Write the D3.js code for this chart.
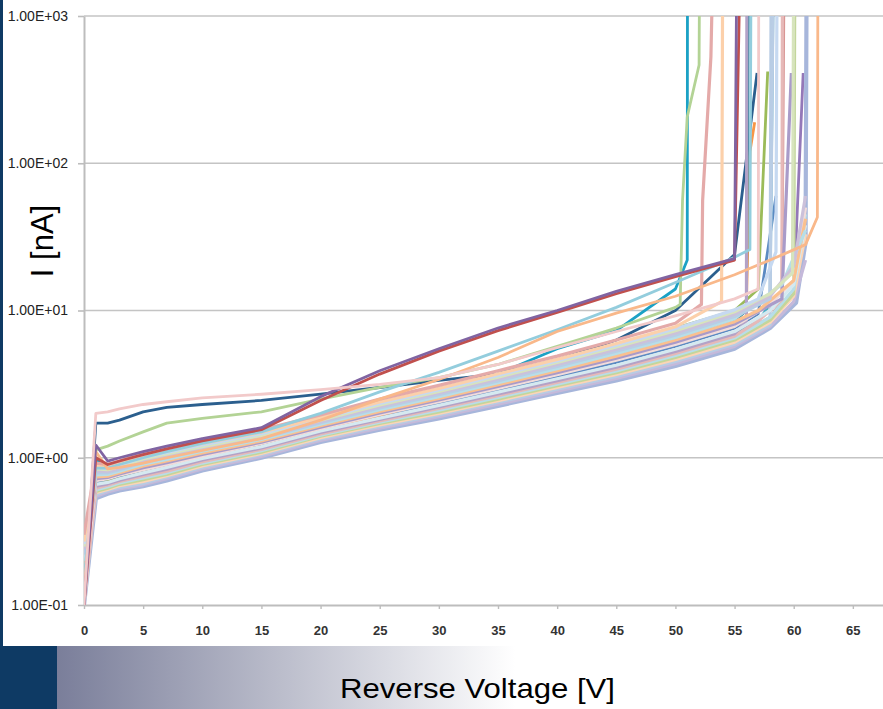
<!DOCTYPE html>
<html>
<head>
<meta charset="utf-8">
<script src="https://cdn.jsdelivr.net/npm/d3@7"></script>
<style>
  body { margin: 0; background: #fff; }
  svg { display: block; }
</style>
</head>
<body>
<svg id="chart" width="883" height="709"></svg>
<script>
// voltage grid shared by all the sweeps (V)
const volts = [0, 1, 2, 3, 5, 7, 10, 15, 20, 25, 30, 35, 40, 45, 50, 55];

// leakage current in nA at each grid voltage, one row per diode (null = already broken down)
const currents = [
  // drawn first, partly hidden by the bundle
  [0.10, 1.72, 1.72, 1.80, 2.05, 2.20, 2.30, 2.45, 2.70, 3.00, 3.35, 3.70, 4.60, 6.30, 10.0, 24],
  [0.10, 1.00, 0.78, 0.80, 0.86, 0.93, 1.05, 1.25, 1.60, 2.05, 2.65, 3.70, 5.50, 7.30, 14.0, null],
  [0.10, 0.68, 0.70, 0.74, 0.81, 0.88, 1.01, 1.22, 1.55, 1.92, 2.34, 2.88, 3.56, 4.45, 5.70, 7.6],
  [0.12, 0.63, 0.66, 0.70, 0.76, 0.82, 0.95, 1.15, 1.47, 1.80, 2.20, 2.68, 3.30, 4.05, 5.20, 6.9],
  [0.10, 0.72, 0.70, 0.73, 0.78, 0.85, 0.97, 1.20, 1.55, 2.00, 2.60, 3.40, 4.40, 5.80, 7.60, 10],
  [0.12, 0.75, 0.72, 0.75, 0.80, 0.88, 1.00, 1.20, 1.55, 1.95, 2.45, 3.10, 3.90, 5.00, 6.50, 9.0],
  [0.10, 0.60, 0.63, 0.67, 0.72, 0.78, 0.90, 1.10, 1.40, 1.72, 2.08, 2.55, 3.10, 3.80, 4.80, 6.4],
  [0.10, 0.70, 0.72, 0.75, 0.82, 0.90, 1.02, 1.24, 1.60, 2.00, 2.50, 3.10, 3.85, 4.90, 6.30, 8.5],
  [0.12, 0.62, 0.64, 0.68, 0.73, 0.80, 0.92, 1.12, 1.43, 1.76, 2.12, 2.60, 3.20, 3.95, 5.00, 6.6],
  // pastel bundle
  [0.10, 0.53, 0.57, 0.60, 0.64, 0.70, 0.82, 1.00, 1.28, 1.55, 1.85, 2.25, 2.75, 3.35, 4.20, 5.5],
  [0.12, 0.545, 0.585, 0.615, 0.655, 0.72, 0.84, 1.02, 1.31, 1.59, 1.90, 2.31, 2.83, 3.45, 4.35, 5.7],
  [0.14, 0.56, 0.60, 0.63, 0.67, 0.74, 0.86, 1.05, 1.34, 1.63, 1.95, 2.38, 2.92, 3.57, 4.50, 5.9],
  [0.20, 0.58, 0.61, 0.645, 0.69, 0.755, 0.88, 1.07, 1.37, 1.67, 2.00, 2.44, 3.00, 3.68, 4.65, 6.1],
  [0.15, 0.59, 0.62, 0.66, 0.71, 0.77, 0.90, 1.09, 1.40, 1.71, 2.05, 2.50, 3.08, 3.78, 4.80, 6.3],
  [0.10, 0.605, 0.635, 0.675, 0.73, 0.79, 0.92, 1.115, 1.425, 1.745, 2.10, 2.57, 3.16, 3.88, 4.95, 6.5],
  [0.10, 0.62, 0.65, 0.69, 0.75, 0.81, 0.94, 1.14, 1.45, 1.78, 2.16, 2.64, 3.25, 4.00, 5.10, 6.7],
  [0.22, 0.64, 0.665, 0.705, 0.77, 0.835, 0.965, 1.165, 1.485, 1.82, 2.21, 2.71, 3.34, 4.12, 5.27, 6.95],
  [0.20, 0.66, 0.68, 0.72, 0.79, 0.86, 0.99, 1.19, 1.52, 1.86, 2.27, 2.79, 3.44, 4.25, 5.45, 7.2],
  [0.13, 0.70, 0.72, 0.76, 0.83, 0.90, 1.03, 1.25, 1.58, 1.97, 2.40, 2.96, 3.67, 4.59, 5.87, 7.8],
  [0.16, 0.72, 0.735, 0.775, 0.855, 0.925, 1.055, 1.275, 1.615, 2.015, 2.465, 3.045, 3.785, 4.745, 6.08, 8.1],
  [0.18, 0.74, 0.75, 0.79, 0.88, 0.95, 1.08, 1.30, 1.65, 2.06, 2.53, 3.13, 3.90, 4.90, 6.30, 8.4],
  [0.20, 0.765, 0.77, 0.81, 0.905, 0.975, 1.11, 1.33, 1.69, 2.12, 2.60, 3.23, 4.03, 5.10, 6.55, 8.8],
  [0.22, 0.79, 0.79, 0.83, 0.93, 1.00, 1.14, 1.36, 1.73, 2.18, 2.68, 3.33, 4.17, 5.30, 6.80, 9.1],
  [0.24, 0.815, 0.81, 0.85, 0.955, 1.03, 1.165, 1.39, 1.765, 2.23, 2.75, 3.43, 4.30, 5.47, 7.05, 9.45],
  [0.25, 0.84, 0.83, 0.87, 0.98, 1.06, 1.19, 1.42, 1.80, 2.28, 2.82, 3.53, 4.43, 5.65, 7.30, 9.8],
  [0.26, 0.86, 0.845, 0.89, 1.005, 1.085, 1.22, 1.455, 1.84, 2.335, 2.89, 3.625, 4.545, 5.81, 7.52, 10.1],
  [0.27, 0.88, 0.86, 0.91, 1.03, 1.11, 1.25, 1.49, 1.88, 2.39, 2.96, 3.72, 4.66, 5.97, 7.75, null],
  [0.30, 0.92, 0.90, 0.95, 1.08, 1.17, 1.30, 1.55, 1.95, 2.50, 3.10, 3.90, 4.90, 6.30, 8.20, null],
  // outliers on top
  [0.12, 1.13, 1.20, 1.30, 1.50, 1.72, 1.85, 2.05, 2.50, 3.00, 3.50, 4.30, 5.70, 7.60, 10.5, null],
  [0.15, 0.85, 0.85, 0.90, 1.00, 1.10, 1.25, 1.50, 2.00, 2.80, 3.80, 5.30, 7.40, 10.5, 15.5, 23],
  [0.12, 1.10, 0.84, 0.86, 0.92, 1.00, 1.12, 1.35, 1.80, 2.50, 3.40, 4.80, 7.20, 9.60, 12.5, 17.5],
  [0.10, 1.00, 0.90, 0.95, 1.05, 1.15, 1.30, 1.55, 2.45, 3.70, 5.30, 7.30, 9.70, 13.0, 17.0, 22],
  [0.10, 1.22, 0.95, 1.00, 1.10, 1.20, 1.35, 1.60, 2.60, 3.90, 5.50, 7.60, 10.0, 13.5, 17.5, 22.5],
  [0.10, 2.00, 2.05, 2.15, 2.30, 2.40, 2.55, 2.70, 2.90, 3.15, 3.50, 4.30, 5.60, 7.20, 9.20, 12]
];

// readings past 50 V up to breakdown, [V, nA] (values above 1000 leave the plot)
const tails = [
  [[56.9, 410]],
  [[51, 22], [51.02, 3000]],
  [[57, 9.5], [58.5, 60]],
  [[57, 8.5], [58, 11], [58.3, 3000]],
  [[57, 14], [57.8, 420]],
  [[56, 11], [56.3, 120], [56.7, 190]],
  [[58, 8.6], [60, 13], [60.8, 410]],
  [[56, 10], [56.2, 3000]],
  [[58, 9], [59, 11.5], [59.2, 3000]],
  [[58, 7.6], [60.2, 11.3], [61, 29], [61.1, 3000]],
  [[58, 7.8], [60, 11.5], [61, 22]],
  [[58, 8.0], [58.1, 3000]],
  [[58, 8.3], [60, 12.5], [61, 33]],
  [[58, 8.6], [60, 13], [60.1, 3000]],
  [[58, 9], [60, 14], [61, 45]],
  [[57, 8.5], [59, 11.8], [59.05, 3000]],
  [[56, 8.5], [56.05, 3000]],
  [[58, 10], [60, 15], [61, 38]],
  [[58, 11], [60, 16], [61, 50]],
  [[59, 12], [59.8, 410]],
  [[57, 10], [60, 16], [61, 42]],
  [[57, 11.5], [59, 15], [61, 35]],
  [[58, 12], [58.3, 3000]],
  [[58, 12.5], [60, 20], [61, 60]],
  [[58, 13], [59.9, 18], [60, 3000]],
  [[57, 12], [58.5, 25], [58.6, 3000]],
  [[53.9, 11.5], [54, 3000]],
  [[52.2, 11], [52.3, 56], [53, 530], [53.2, 3000]],
  [[50.4, 11], [50.6, 56], [51, 207], [52, 465], [52.05, 3000]],
  [[56.3, 26], [56.4, 3000]],
  [[58, 22], [61, 28], [62, 43], [62.05, 3000]],
  [[55.5, 3000]],
  [[55.2, 3000]],
  [[57, 14], [57.05, 3000]]
];

const colors = [
  "#2b5f8e", "#1ba1c5",
  "#5b8ac2", "#4bacc6", "#9bbb59", "#f79646", "#9478b8", "#31859c", "#d99694",
  "#a7b6db", "#c5b9da", "#b8cce4", "#fcd5b5", "#c3d69b", "#b7dee8", "#e6b9b8",
  "#b3a2c7", "#d5e9f0", "#f2dcdb", "#a99bc9", "#fac08f", "#b7dee8", "#b9cde5",
  "#ccc1da", "#d7e4bd", "#c6d9f1", "#fcd0aa", "#e4aaa9",
  "#b3d395", "#93cddd", "#f9b88a", "#c0504d", "#8064a2", "#f2caca"
];

const xTicks = [0, 5, 10, 15, 20, 25, 30, 35, 40, 45, 50, 55, 60, 65];
const yTicks = [0.1, 1, 10, 100, 1000];
const yTickLabels = ["1.00E-01", "1.00E+00", "1.00E+01", "1.00E+02", "1.00E+03"];

const svg = d3.select("#chart");
const W = 883, H = 709;
const plot = {left: 84, top: 16, bottom: 605, right: 912};

// page decoration: navy strip and the gradient band under the chart
const defs = svg.append("defs");
const grad = defs.append("linearGradient").attr("id", "band")
  .attr("gradientUnits", "userSpaceOnUse")
  .attr("x1", 57).attr("x2", 515).attr("y1", 0).attr("y2", 0);
grad.append("stop").attr("offset", 0).attr("stop-color", "#7a7e9a");
grad.append("stop").attr("offset", 1).attr("stop-color", "#ffffff");

svg.append("rect").attr("x", 0).attr("y", 0).attr("width", W).attr("height", H).attr("fill", "#fff");
svg.append("rect").attr("x", 0).attr("y", 0).attr("width", 3).attr("height", 647).attr("fill", "#0e3a64");
svg.append("rect").attr("x", 57).attr("y", 646).attr("width", 460).attr("height", H - 646).attr("fill", "url(#band)");
svg.append("rect").attr("x", 0).attr("y", 646).attr("width", 57).attr("height", H - 646).attr("fill", "#0e3a64");

defs.append("clipPath").attr("id", "plotclip")
  .append("rect")
  .attr("x", plot.left).attr("y", plot.top)
  .attr("width", plot.right - plot.left).attr("height", plot.bottom - plot.top);

// scales
const x = d3.scaleLinear().domain([0, 70]).range([plot.left, plot.right]);
const y = d3.scaleLog().domain([0.1, 1000]).range([plot.bottom, plot.top]);

// horizontal gridlines
svg.append("g").selectAll("line")
  .data(yTicks.slice(1))
  .join("line")
  .attr("x1", plot.left).attr("x2", plot.right)
  .attr("y1", d => y(d)).attr("y2", d => y(d))
  .attr("stroke", "#c4c4c4").attr("stroke-width", 1.6);

// y axis
const gy = svg.append("g")
  .attr("transform", `translate(${plot.left},0)`)
  .call(d3.axisLeft(y).tickValues(yTicks)
    .tickFormat((d, i) => yTickLabels[i])
    .tickSize(6).tickSizeOuter(0).tickPadding(10));
gy.select(".domain").attr("stroke", "#bdbdbd").attr("stroke-width", 2);
gy.selectAll(".tick line").attr("stroke", "#bdbdbd").attr("stroke-width", 1.6);
gy.selectAll("text")
  .style("font-family", "'Liberation Sans', Arial, sans-serif")
  .style("font-size", "14px")
  .attr("fill", "#222");

// x axis
const gx = svg.append("g")
  .attr("transform", `translate(0,${plot.bottom})`)
  .call(d3.axisBottom(x).tickValues(xTicks)
    .tickSize(4).tickSizeOuter(0).tickPadding(17));
gx.select(".domain").attr("stroke", "#bdbdbd").attr("stroke-width", 2.2);
gx.selectAll(".tick line").attr("stroke", "#bdbdbd").attr("stroke-width", 1.4);
gx.selectAll("text")
  .style("font-family", "'Liberation Sans', Arial, sans-serif")
  .style("font-size", "13px")
  .style("font-weight", "bold")
  .attr("fill", "#333");

// curves
const line = d3.line().x(d => x(d[0])).y(d => y(d[1]));
const lines = svg.append("g").attr("clip-path", "url(#plotclip)");
currents.forEach((row, i) => {
  const pts = volts.map((v, j) => [v, row[j]]).filter(p => p[1] != null).concat(tails[i]);
  lines.append("path")
    .datum(pts)
    .attr("fill", "none")
    .attr("stroke", colors[i])
    .attr("stroke-width", i === 9 ? 4.2 : (i >= 9 && i < 28 ? 3.2 : 2.8))
    .attr("stroke-linejoin", "round")
    .attr("d", line);
});

// axis titles
svg.append("text")
  .attr("transform", "translate(53,241) rotate(-90)")
  .attr("text-anchor", "middle")
  .style("font-family", "'Liberation Sans', Arial, sans-serif")
  .style("font-size", "31px")
  .attr("fill", "#000")
  .text("I [nA]");

svg.append("text")
  .attr("x", 340).attr("y", 698)
  .attr("textLength", 275).attr("lengthAdjust", "spacingAndGlyphs")
  .style("font-family", "'Liberation Sans', Arial, sans-serif")
  .style("font-size", "28px")
  .attr("fill", "#000")
  .text("Reverse Voltage [V]");
</script>
</body>
</html>
